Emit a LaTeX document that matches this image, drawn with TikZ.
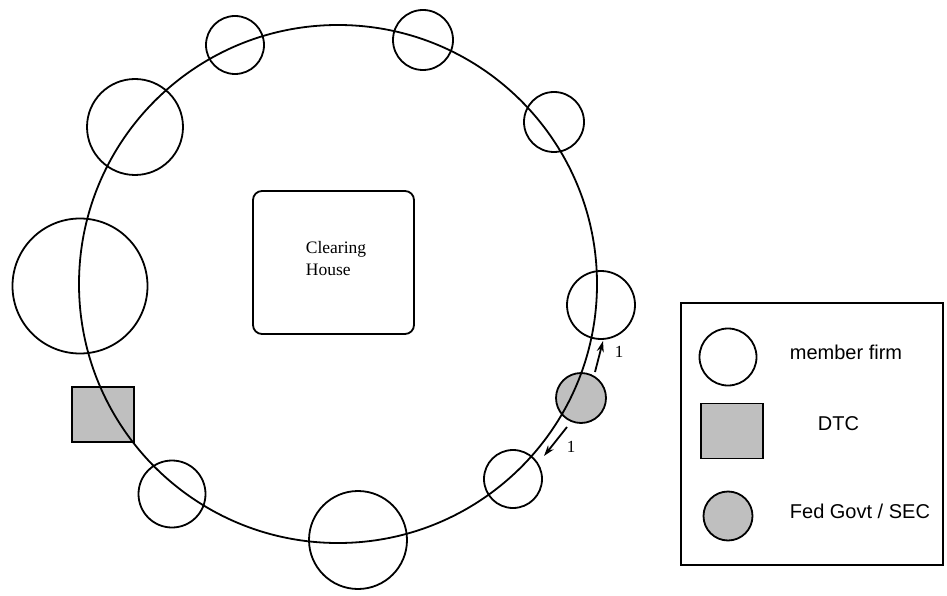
\documentclass[tikz,border=0pt]{standalone}
\usepackage{fontspec}
\setmainfont{Liberation Serif}
\newfontfamily\lsans{Liberation Sans}
\usetikzlibrary{arrows.meta}
\begin{document}
\begin{tikzpicture}[x=1pt,y=-1pt,
  line width=1.8pt,
  firm/.style={circle,draw,inner sep=0pt,minimum size=#1},
  dtcbox/.style={rectangle,draw,fill=gray!50,inner sep=0pt,minimum width=62pt,minimum height=55pt},
  fedc/.style={circle,draw,fill=gray!50,inner sep=0pt,minimum size=#1},
  flow/.style={-{Stealth[length=11pt,width=7pt]},line width=1.8pt},
  lbl/.style={font=\fontsize{17}{19}\selectfont,inner sep=1pt},
  leg/.style={font=\lsans\fontsize{20}{24}\selectfont,anchor=west,inner sep=0pt}]
\useasboundingbox (0,0) rectangle (947,596);
% member firms
\node[firm=58pt] (f1) at (235,45) {};
\node[firm=60pt] (f2) at (423,40) {};
\node[firm=60pt] (f3) at (554,122) {};
\node[firm=96pt] (f4) at (135,127) {};
\node[firm=135pt] (f5) at (80,286) {};
\node[firm=68pt] (f6) at (601,305) {};
\node[firm=58pt] (f7) at (513,479) {};
\node[firm=67pt] (f8) at (172,494) {};
\node[firm=98pt] (f9) at (358,540) {};
% DTC and Fed
\node[dtcbox] (dtc) at (103,414.5) {};
\node[fedc=50pt] (fed) at (581,398) {};
% clearing house
\node[draw,rounded corners=9pt,minimum width=161pt,minimum height=143pt,inner sep=0pt] (ch) at (333.5,262.5) {};
\node[align=left,font=\fontsize{17.5}{22}\selectfont,inner sep=0pt] (chtext) at (336,259) {Clearing\\House};
% big ring
\node[circle,draw,inner sep=0pt,minimum size=518pt] (ring) at (338,284) {};
% arrows
\coordinate (a1s) at (595,372);
\coordinate (a1e) at (603,341);
\coordinate (a2s) at (567,427);
\coordinate (a2e) at (544,456);
\draw[flow] (a1s) -- (a1e);
\draw[flow] (a2s) -- (a2e);
\node[lbl] (l1) at (619,352) {1};
\node[lbl] (l2) at (571,447) {1};
% legend
\node[draw,minimum width=262pt,minimum height=262pt,inner sep=0pt] (legend) at (812,434) {};
\node[firm=57pt] (lf) at (728,357) {};
\node[dtcbox] (ld) at (732,431) {};
\node[fedc=49pt] (lg) at (728,516) {};
\node[leg] (t1) at (789,352) {member firm};
\node[leg] (t2) at (817,424) {DTC};
\node[leg] (t3) at (789,511) {Fed Govt / SEC};
\end{tikzpicture}
\end{document}
